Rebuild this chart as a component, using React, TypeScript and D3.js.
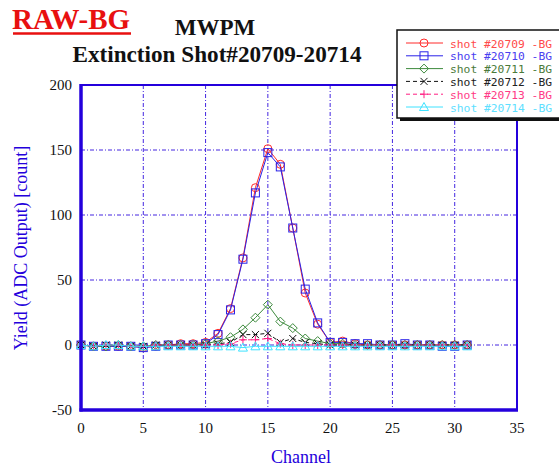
import React from "react";
import * as d3 from "d3";

const channels = d3.range(0, 32);
const shot20709 = [0, -1, -1, -1, -1, -2, -1, 0, 1, 1, 2, 9, 28, 67, 121, 151, 139, 90, 40, 16, 2, 3, 1, 0, 0, 0, 0, 0, 0, 0, 0, 0];
const shot20710 = [0, -1, -1, -1, -1, -2, -1, 0, 0, 0, 1, 8, 27, 66, 117, 148, 137, 90, 43, 17, 2, 2, 1, 1, 0, 0, 1, 0, 0, -1, -1, 0];
const shot20711 = [0, -1, -1, 0, -1, -1, 0, 0, 0, 0, 1, 3, 6, 12, 21, 31, 18, 13, 5, 3, 1, 1, 0, 0, 0, 0, 0, 0, 0, 0, 0, 0];
const shot20712 = [0, -1, 0, 0, -1, -1, 0, 0, 0, 0, 0, 1, 2, 8, 8, 9, 2, 5, 2, 1, 0, 0, 0, 0, 0, 0, 0, 0, 0, 0, 0, 0];
const shot20713 = [0, -1, 0, 0, -1, -1, 0, 0, 0, 0, 0, 0, 1, 4, 4, 5, 1, 0, 0, 0, 0, 0, 0, 0, 0, 0, 0, 0, 0, 0, 0, 0];
const shot20714 = [0, -1, 0, 0, -1, -1, -1, -1, -1, -1, -1, -1, -1, -2, -1, -1, -1, -1, -1, -1, -1, -1, -1, -1, -1, -1, -1, -1, -1, -1, -1, -1];

const xTicks = [0, 5, 10, 15, 20, 25, 30, 35];
const yTicks = [-50, 0, 50, 100, 150, 200];

type Marker = "circle" | "square" | "diamond" | "cross" | "plus" | "triangle";
interface Series {
  label: string;
  values: number[];
  color: string;
  textColor: string;
  marker: Marker;
  dash: string | undefined;
}

const series: Series[] = [
  { label: "shot #20709 -BG", values: shot20709, color: "#ff2a2a", textColor: "#ff4a4a", marker: "circle", dash: undefined },
  { label: "shot #20710 -BG", values: shot20710, color: "#2a22e8", textColor: "#4a40f0", marker: "square", dash: undefined },
  { label: "shot #20711 -BG", values: shot20711, color: "#3d8a3d", textColor: "#4a7a3a", marker: "diamond", dash: undefined },
  { label: "shot #20712 -BG", values: shot20712, color: "#111111", textColor: "#222222", marker: "cross", dash: "4,3" },
  { label: "shot #20713 -BG", values: shot20713, color: "#ff1e82", textColor: "#ff3a86", marker: "plus", dash: "4,3" },
  { label: "shot #20714 -BG", values: shot20714, color: "#3ee2ff", textColor: "#5ee0ff", marker: "triangle", dash: undefined },
];

const AXIS = "#2400dc";
const plot = { left: 81, right: 517, top: 85, bottom: 410 };

function MarkerShape({ type, x, y, color }: { type: Marker; x: number; y: number; color: string }) {
  const sw = 1;
  switch (type) {
    case "circle":
      return <circle cx={x} cy={y} r={4} fill="none" stroke={color} strokeWidth={sw} />;
    case "square":
      return <rect x={x - 4} y={y - 4} width={8} height={8} fill="none" stroke={color} strokeWidth={sw} />;
    case "diamond":
      return <path d={`M${x},${y - 4.5}L${x + 4.5},${y}L${x},${y + 4.5}L${x - 4.5},${y}Z`} fill="none" stroke={color} strokeWidth={sw} />;
    case "cross":
      return <path d={`M${x - 3.5},${y - 3.5}L${x + 3.5},${y + 3.5}M${x + 3.5},${y - 3.5}L${x - 3.5},${y + 3.5}`} stroke={color} strokeWidth={sw} />;
    case "plus":
      return <path d={`M${x - 4},${y}L${x + 4},${y}M${x},${y - 4}L${x},${y + 4}`} stroke={color} strokeWidth={sw} />;
    case "triangle":
      return <path d={`M${x},${y - 4.5}L${x + 4.5},${y + 3.5}L${x - 4.5},${y + 3.5}Z`} fill="none" stroke={color} strokeWidth={sw} />;
  }
}

export default function App() {
  const x = d3.scaleLinear().domain([0, 35]).range([plot.left, plot.right]);
  const y = d3.scaleLinear().domain([-50, 200]).range([plot.bottom, plot.top]);
  const line = d3
    .line<number>()
    .x((_, i) => x(channels[i]))
    .y((v) => y(v));

  const serif = "'Liberation Serif', 'Times New Roman', serif";
  const mono = "'DejaVu Sans Mono', 'Liberation Mono', monospace";

  const legendX = 397;
  const legendY = 30;
  const rowY = (i: number) => 43 + i * 12.8;

  return (
    <svg width={559} height={467} style={{ position: "absolute", left: 0, top: 0, background: "#fff" }}>
      <rect x={0} y={0} width={559} height={467} fill="#fff" />

      {/* titles */}
      <text x={12} y={29} fontFamily={serif} fontWeight="bold" fontSize={29} fill="#e81010" textLength={118} lengthAdjust="spacingAndGlyphs">RAW-BG</text>
      <line x1={13} x2={131} y1={33.5} y2={33.5} stroke="#e81010" strokeWidth={2.5} />
      <text x={215} y={35} fontFamily={serif} fontWeight="bold" fontSize={23} textAnchor="middle" fill="#111">MWPM</text>
      <text x={217} y={62} fontFamily={serif} fontWeight="bold" fontSize={23} textAnchor="middle" fill="#111" textLength={289} lengthAdjust="spacingAndGlyphs">Extinction Shot#20709-20714</text>

      {/* grid */}
      {xTicks.filter((t) => t > 0 && t < 35).map((t) => (
        <line key={`gx${t}`} x1={x(t)} x2={x(t)} y1={plot.top} y2={plot.bottom} stroke={AXIS} strokeWidth={1} strokeDasharray="4,2,1,2" opacity={0.85} />
      ))}
      {yTicks.filter((t) => t > -50 && t < 200).map((t) => (
        <line key={`gy${t}`} x1={plot.left} x2={plot.right} y1={y(t)} y2={y(t)} stroke={AXIS} strokeWidth={1} strokeDasharray="4,2,1,2" opacity={0.85} />
      ))}

      {/* series */}
      {series.map((s) => (
        <g key={s.label}>
          <path d={line(s.values) ?? ""} fill="none" stroke={s.color} strokeWidth={1} strokeDasharray={s.dash} />
          {s.values.map((v, i) => (
            <MarkerShape key={i} type={s.marker} x={x(channels[i])} y={y(v)} color={s.color} />
          ))}
        </g>
      ))}

      {/* frame */}
      <line x1={plot.left} x2={plot.right} y1={plot.top} y2={plot.top} stroke={AXIS} strokeWidth={2} />
      <line x1={plot.right} x2={plot.right} y1={plot.top} y2={plot.bottom} stroke={AXIS} strokeWidth={2} />
      <line x1={plot.left} x2={plot.left} y1={plot.top - 1} y2={plot.bottom + 1.5} stroke={AXIS} strokeWidth={3.5} />
      <line x1={plot.left - 1.5} x2={plot.right + 1} y1={plot.bottom} y2={plot.bottom} stroke={AXIS} strokeWidth={3.5} />

      {/* tick labels */}
      {yTicks.map((t) => (
        <text key={`yt${t}`} x={72} y={y(t) + 5} textAnchor="end" fontFamily={serif} fontSize={15} fill="#111">{t}</text>
      ))}
      {xTicks.map((t) => (
        <text key={`xt${t}`} x={x(t)} y={433} textAnchor="middle" fontFamily={serif} fontSize={15} fill="#111">{t}</text>
      ))}

      {/* axis titles */}
      <text x={301} y={463} textAnchor="middle" fontFamily={serif} fontSize={18} fill={AXIS}>Channel</text>
      <text transform={`translate(27,248) rotate(-90)`} textAnchor="middle" fontFamily={serif} fontSize={18} fill={AXIS}>Yield (ADC Output) [count]</text>

      {/* legend */}
      <rect x={legendX + 3} y={legendY + 3} width={170} height={88} fill="#111" />
      <rect x={legendX} y={legendY} width={170} height={88} fill="#fff" stroke="#111" strokeWidth={1.5} />
      {series.map((s, i) => (
        <g key={`lg${s.label}`}>
          <line x1={406} x2={443} y1={rowY(i)} y2={rowY(i)} stroke={s.color} strokeWidth={1} strokeDasharray={s.dash} />
          <MarkerShape type={s.marker} x={424} y={rowY(i)} color={s.color} />
          <text x={450} y={rowY(i) + 4.5} fontFamily={mono} fontSize={11.3} fill={s.textColor} xmlSpace="preserve">{s.label}</text>
        </g>
      ))}
    </svg>
  );
}
